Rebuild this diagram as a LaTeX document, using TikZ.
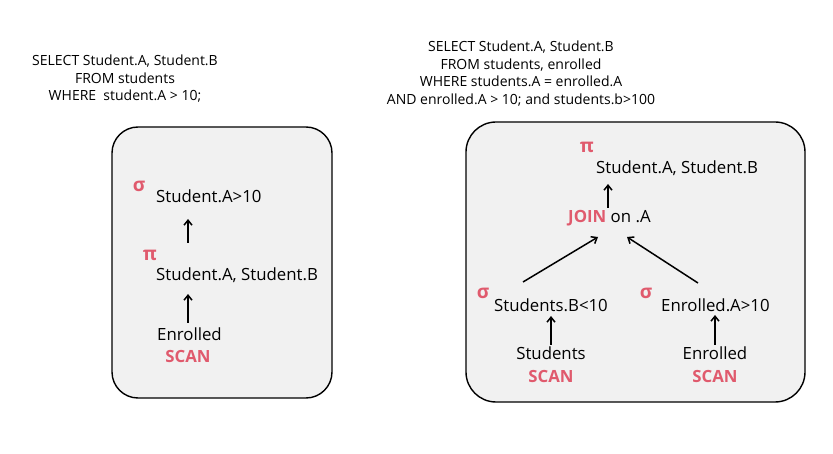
\documentclass[tikz,border=0pt]{standalone}
\usepackage{fontspec}
\setmainfont{Open Sans}
\usetikzlibrary{arrows.meta}
\definecolor{opred}{HTML}{E05A6D}
\definecolor{boxgray}{HTML}{F1F1F1}
\tikzset{
  panel/.style={draw=black, line width=1.4pt, fill=boxgray, rounded corners=26pt},
  sql/.style={font=\fontsize{14}{17.5}\selectfont, align=center, inner sep=0pt},
  lbl/.style={font=\fontsize{16.8}{20}\selectfont, inner sep=0pt, anchor=west},
  ctr/.style={font=\fontsize{16.8}{20}\selectfont, inner sep=0pt},
  op/.style={font=\fontsize{16.8}{20}\selectfont\bfseries, text=opred, inner sep=0pt},
  sym/.style={font=\fontsize{19}{20}\selectfont\bfseries, text=opred, inner sep=0pt},
  arr/.style={-{Straight Barb[length=5pt,width=8pt]}, line width=1.5pt}
}
\begin{document}
\begin{tikzpicture}[x=1pt,y=-1pt]
\useasboundingbox (0,0) rectangle (833,454);
% SQL texts
\node[sql] (sqlL) at (125,79) {SELECT Student.A, Student.B\\FROM students\\WHERE\ \ student.A > 10;};
\node[sql] (sqlR) at (521,73.5) {SELECT Student.A, Student.B\\FROM students, enrolled\\WHERE students.A = enrolled.A\\AND enrolled.A > 10; and students.b>100};
% panels
\draw[panel] (112,127) rectangle (332,398);
\draw[panel, rounded corners=30pt] (466,122) rectangle (805,402);
% left tree
\node[sym] (sigL) at (139,186) {σ};
\node[lbl] (selL) at (156,196) {Student.A>10};
\node[sym] (piL) at (150,255) {π};
\node[lbl] (projL) at (156,275) {Student.A, Student.B};
\node[lbl] (enrL) at (157,334) {Enrolled};
\node[op] (scanL) at (188,356) {SCAN};
\coordinate (a1s) at (188,243); \coordinate (a1e) at (188,219);
\coordinate (a2s) at (188,323); \coordinate (a2e) at (188,294);
\draw[arr] (a1s) -- (a1e);
\draw[arr] (a2s) -- (a2e);
% right tree
\node[sym] (piR) at (587,147) {π};
\node[lbl] (projR) at (596,168) {Student.A, Student.B};
\node[lbl] (join) at (568,218) {\textcolor{opred}{\bfseries JOIN} on .A};
\node[sym] (sigR1) at (483,293) {σ};
\node[lbl] (selR1) at (494,305) {Students.B<10};
\node[sym] (sigR2) at (646,293) {σ};
\node[lbl] (selR2) at (661,305) {Enrolled.A>10};
\node[ctr] (stuR) at (551,353) {Students};
\node[op] (scanR1) at (551,376) {SCAN};
\node[ctr] (enrR) at (715,353) {Enrolled};
\node[op] (scanR2) at (715,376) {SCAN};
\coordinate (b1s) at (608,208); \coordinate (b1e) at (608,184);
\coordinate (b2s) at (523,282); \coordinate (b2e) at (598,237);
\coordinate (b3s) at (698,283); \coordinate (b3e) at (627,237);
\coordinate (b4s) at (551,345); \coordinate (b4e) at (551,316);
\coordinate (b5s) at (715,345); \coordinate (b5e) at (715,315);
\draw[arr] (b1s) -- (b1e);
\draw[arr] (b2s) -- (b2e);
\draw[arr] (b3s) -- (b3e);
\draw[arr] (b4s) -- (b4e);
\draw[arr] (b5s) -- (b5e);
\end{tikzpicture}
\end{document}
